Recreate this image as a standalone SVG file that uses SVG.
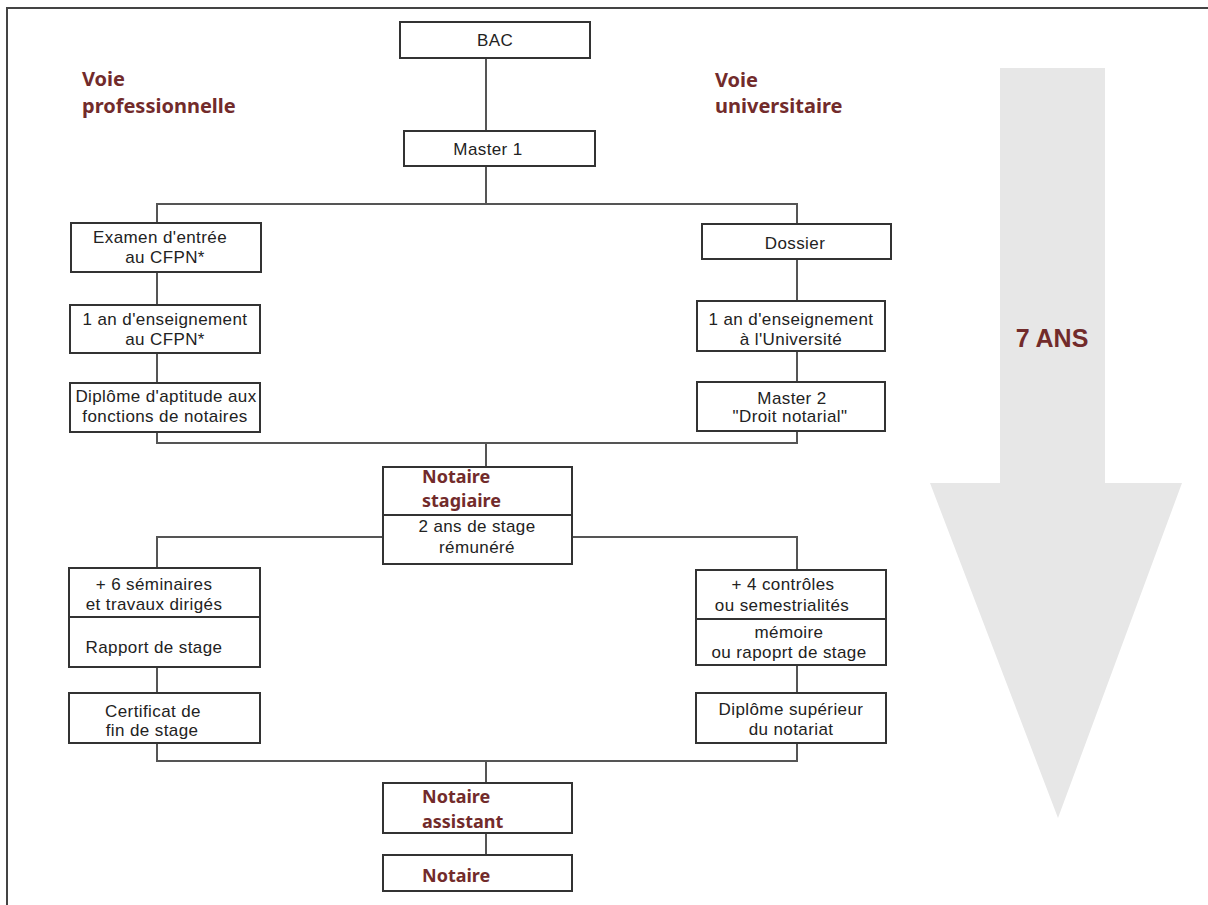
<svg xmlns="http://www.w3.org/2000/svg" width="1208" height="905" viewBox="0 0 1208 905">
<style>
.box{fill:#fff;stroke:#333;stroke-width:2}
.div{stroke:#333;stroke-width:2}
.con{fill:none;stroke:#555;stroke-width:2}
.t{font-family:"Liberation Sans",Arial,sans-serif;font-size:17px;letter-spacing:0.4px;fill:#222;text-anchor:middle}
.r{font-family:"Noto Sans","DejaVu Sans",sans-serif;font-weight:bold;font-size:18px;fill:#722b2b}
.h{font-family:"Noto Sans","DejaVu Sans",sans-serif;font-weight:bold;font-size:20px;fill:#722b2b}
</style>
<defs>
<clipPath id="clipDip"><rect x="70" y="383" width="190" height="49"/></clipPath>
</defs>
<rect x="0" y="0" width="1208" height="905" fill="#fff"/>
<path d="M7 905 V8 H1208" fill="none" stroke="#444" stroke-width="2"/>

<g id="arrow7ans">
<polygon points="1000,68 1105,68 1105,483 1182,483 1058,818 930,483 1000,483" fill="#e7e7e7"/>
<text x="1052" y="347" font-family="Liberation Sans,Arial,sans-serif" font-weight="bold" font-size="25" fill="#722b2b" text-anchor="middle">7 ANS</text>
</g>

<g id="label-pro"><text class="h" x="82" y="86">Voie</text><text class="h" x="82" y="113">professionnelle</text></g>
<g id="label-univ"><text class="h" x="715" y="87">Voie</text><text class="h" x="715" y="113">universitaire</text></g>

<g id="connectors">
<path class="con" d="M486 58 V131"/>
<path class="con" d="M486 166 V204"/>
<path class="con" d="M157 223 V204 H797 V224"/>
<path class="con" d="M157 272 V305"/>
<path class="con" d="M157 353 V383"/>
<path class="con" d="M797 259 V301"/>
<path class="con" d="M797 351 V382"/>
<path class="con" d="M157 432 V443 H797 V431"/>
<path class="con" d="M486 443 V467"/>
<path class="con" d="M383 537 H157 V568"/>
<path class="con" d="M572 537 H797 V570"/>
<path class="con" d="M157 667 V693"/>
<path class="con" d="M797 665 V693"/>
<path class="con" d="M157 743 V761 H797 V743"/>
<path class="con" d="M486 761 V783"/>
<path class="con" d="M486 833 V855"/>
</g>

<g id="bac"><rect class="box" x="400" y="22" width="190" height="36"/><text class="t" x="495" y="46">BAC</text></g>
<g id="master1"><rect class="box" x="404" y="131" width="191" height="35"/><text class="t" x="488" y="155">Master 1</text></g>

<g id="examen"><rect class="box" x="71" y="223" width="190" height="49"/><text class="t" x="160" y="243">Examen d'entrée</text><text class="t" x="165" y="263">au CFPN*</text></g>
<g id="an-cfpn"><rect class="box" x="70" y="305" width="190" height="48"/><text class="t" x="165" y="325">1 an d'enseignement</text><text class="t" x="165" y="345">au CFPN*</text></g>
<g id="diplome-aptitude"><rect class="box" x="70" y="383" width="190" height="49"/><g clip-path="url(#clipDip)"><text class="t" x="166" y="402">Diplôme d'aptitude aux</text></g><text class="t" x="165" y="422">fonctions de notaires</text></g>

<g id="dossier"><rect class="box" x="702" y="224" width="189" height="35"/><text class="t" x="795" y="249">Dossier</text></g>
<g id="an-univ"><rect class="box" x="697" y="301" width="188" height="50"/><text class="t" x="791" y="325">1 an d'enseignement</text><text class="t" x="791" y="345">à l'Université</text></g>
<g id="master2"><rect class="box" x="697" y="382" width="188" height="49"/><text class="t" x="792" y="404">Master 2</text><text class="t" x="790" y="422">"Droit notarial"</text></g>

<g id="notaire-stagiaire"><rect class="box" x="383" y="467" width="189" height="97"/><line class="div" x1="383" y1="515" x2="572" y2="515"/><text class="r" x="422" y="483">Notaire</text><text class="r" x="422" y="507">stagiaire</text><text class="t" x="477" y="532">2 ans de stage</text><text class="t" x="477" y="553">rémunéré</text></g>

<g id="seminaires"><rect class="box" x="69" y="568" width="191" height="99"/><line class="div" x1="69" y1="617" x2="260" y2="617"/><text class="t" x="154" y="590">+ 6 séminaires</text><text class="t" x="154" y="610">et travaux dirigés</text><text class="t" x="154" y="653">Rapport de stage</text></g>
<g id="certificat"><rect class="box" x="69" y="693" width="191" height="50"/><text class="t" x="153" y="717">Certificat de</text><text class="t" x="152" y="736">fin de stage</text></g>

<g id="controles"><rect class="box" x="696" y="570" width="190" height="95"/><line class="div" x1="696" y1="619" x2="886" y2="619"/><text class="t" x="783" y="590">+ 4 contrôles</text><text class="t" x="782" y="611">ou semestrialités</text><text class="t" x="789" y="638">mémoire</text><text class="t" x="789" y="658">ou rapoprt de stage</text></g>
<g id="diplome-sup"><rect class="box" x="696" y="693" width="190" height="50"/><text class="t" x="791" y="715">Diplôme supérieur</text><text class="t" x="791" y="735">du notariat</text></g>

<g id="notaire-assistant"><rect class="box" x="383" y="783" width="189" height="50"/><text class="r" x="422" y="803">Notaire</text><text class="r" x="422" y="828">assistant</text></g>
<g id="notaire"><rect class="box" x="383" y="855" width="189" height="36"/><text class="r" x="422" y="882">Notaire</text></g>
</svg>
